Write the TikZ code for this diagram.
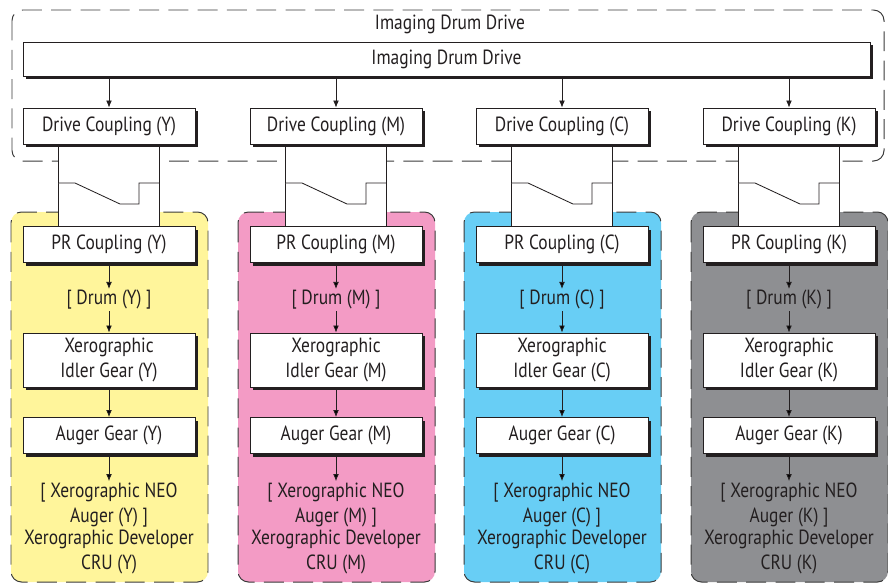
\documentclass[tikz,border=0pt]{standalone}
\usepackage{fontspec}
\setmainfont[FakeStretch=0.85]{PT Sans}
\usepackage{xcolor}
\usetikzlibrary{arrows.meta, positioning, shadows}

\definecolor{ink}{HTML}{231F20}
\definecolor{dashgray}{HTML}{3A3A3A}
\definecolor{panelY}{HTML}{FFF59B}
\definecolor{panelM}{HTML}{F39BC5}
\definecolor{panelC}{HTML}{68CEF5}
\definecolor{panelK}{HTML}{8E8F92}

\tikzset{
  part/.style={draw=ink, fill=white, line width=0.8pt, minimum width=5.16cm,
    minimum height=1.08cm, align=center,
    general shadow={fill=ink, shadow xshift=0.1cm, shadow yshift=-0.1cm}},
  plain/.style={align=center, inner sep=1pt},
  feed/.style={draw=ink, line width=0.7pt, -{Latex[length=6pt,width=5pt]}},
  frame/.style={draw=dashgray, line width=0.85pt, dash pattern=on 17pt off 8pt, rounded corners=9pt},
  couple/.style={draw=ink, fill=white, line width=0.7pt},
}

\begin{document}
\begin{tikzpicture}[x=0.03cm, y=-0.03cm, node distance=2cm, on grid, auto,
    font=\fontsize{17.5}{22}\selectfont, text=ink]
  \useasboundingbox (0,0) rectangle (888,584);

  % drive unit
  \draw[frame] (12,10) rectangle (884,161);
  \node[plain] (unit) at (450,24) {Imaging Drum Drive};
  \node[part, minimum width=25.41cm, minimum height=1.02cm] (drive) at (446.5,59) {Imaging Drum Drive};

  % one column per colour
  \foreach \c/\x in {Y/109, M/336, C/562, K/789} {
    \draw[frame, fill=panel\c] ({\x-98},212) rectangle ({\x+99},582);
    \draw[couple] ({\x-51},144) rectangle ({\x+50},227);
    \draw[couple] ({\x-51},183) -- ({\x-34},183) -- ({\x+11},204) -- ({\x+30},204)
      -- ({\x+30},183) -- ({\x+50},183);

    \node[part] (dc\c) at (\x,126) {Drive Coupling (\c)};
    \node[part] (pr\c) [below=3.555cm of dc\c] {PR Coupling (\c)};
    \node[plain] (dr\c) [below=1.665cm of pr\c] {[ Drum (\c) ]};
    \node[part, minimum height=1.62cm] (id\c) [below=1.8cm of dr\c] {Xerographic\\Idler Gear (\c)};
    \node[part] (au\c) [below=2.265cm of id\c] {Auger Gear (\c)};
    \node[plain] (neo\c) [below=2.085cm of au\c] {[ Xerographic NEO\\Auger (\c) ]};
    \node[plain] (dev\c) [below=1.41cm of neo\c] {Xerographic Developer\\CRU (\c)};

    \draw[feed] (drive.south -| dc\c) -- (dc\c);
    \path[feed]
      (pr\c) edge (dr\c)
      (dr\c) edge (id\c)
      (id\c) edge (au\c)
      (au\c) edge (neo\c);
  }
\end{tikzpicture}
\end{document}
